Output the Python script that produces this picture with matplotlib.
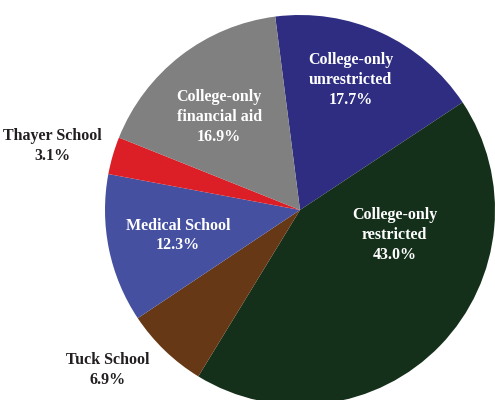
import matplotlib
matplotlib.use("Agg")
import matplotlib.pyplot as plt

# ======== data ==========
labels = ["College-only\nunrestricted", "College-only\nrestricted", "Tuck School",
          "Medical School", "Thayer School", "College-only\nfinancial aid"]
shares = [17.7, 43.0, 6.9, 12.3, 3.1, 16.9]
colors = ["#2e2d82", "#15301a", "#663815", "#4550a0", "#dc1f26", "#808080"]

# label centres (pie radius = 1) and text colour
label_xy = [(0.26, 0.667), (0.485, -0.128), (-0.985, -0.82),
            (-0.626, -0.13), (-1.268, 0.328), (-0.415, 0.477)]
label_colors = ["white", "white", "#231f20", "white", "#231f20", "white"]

fig = plt.figure(figsize=(4.95, 4.0), dpi=100)
ax = fig.add_axes([0, 0, 1, 1])

ax.pie(shares, colors=colors, startangle=97.3, counterclock=False,
       wedgeprops=dict(linewidth=0))

for lab, val, (x, y), c in zip(labels, shares, label_xy, label_colors):
    ax.text(x, y, f"{lab}\n{val:.1f}%", ha="center", va="center", color=c,
            fontsize=11.5, fontweight="bold", family="Liberation Serif",
            linespacing=1.3)

# pie runs off the right and bottom edges like the original
ax.set_xlim(-300 / 195, 195 / 195)
ax.set_ylim(-190 / 195, 210 / 195)
ax.set_aspect("equal")
ax.axis("off")

fig.savefig("out.png", dpi=100)
